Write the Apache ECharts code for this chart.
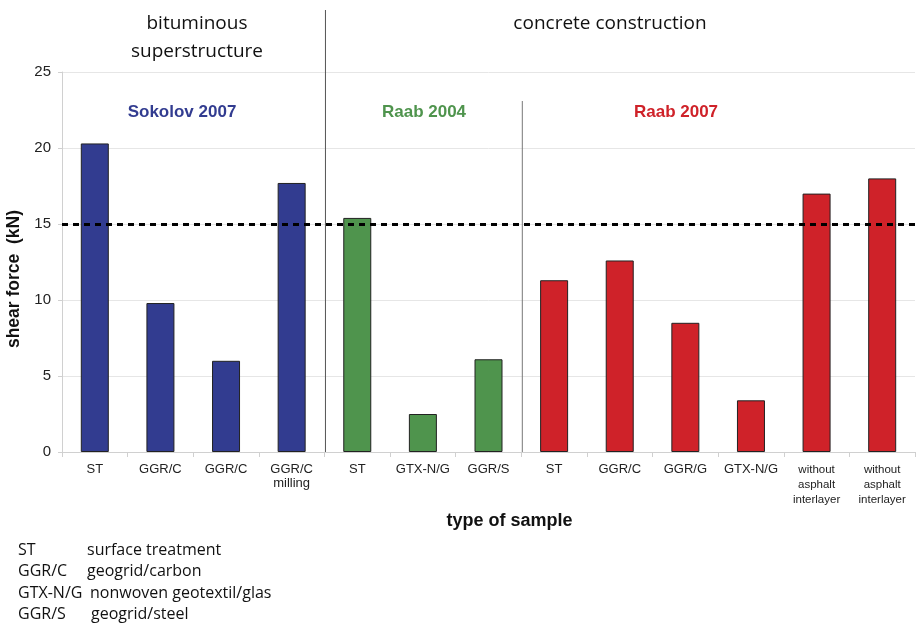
<!DOCTYPE html>
<html>
<head>
<meta charset="utf-8">
<script src="https://cdn.jsdelivr.net/npm/echarts@6/dist/echarts.min.js"></script>
<style>
  html, body { margin: 0; padding: 0; background: #fff; }
  #chart { width: 917px; height: 626px; }
</style>
</head>
<body>
<div id="chart"></div>
<script>
// categories (type of sample)
var categories = ['ST', 'GGR/C', 'GGR/C', 'GGR/C\nmilling', 'ST', 'GTX-N/G', 'GGR/S',
  'ST', 'GGR/C', 'GGR/G', 'GTX-N/G', 'without\nasphalt\ninterlayer', 'without\nasphalt\ninterlayer'];
// shear force in kN
var shearForce = [20.3, 9.8, 6.0, 17.7, 15.4, 2.5, 6.1, 11.3, 12.6, 8.5, 3.4, 17.0, 18.0];
// which study each bar belongs to
var study = [0, 0, 0, 0, 1, 1, 1, 2, 2, 2, 2, 2, 2];
var studyNames = ['Sokolov 2007', 'Raab 2004', 'Raab 2007'];
var studyColors = ['#323c90', '#4f944d', '#cf2229'];
var yTicks = [0, 5, 10, 15, 20, 25];
var limitValue = 15;
var legendAbbr = ['ST', 'GGR/C', 'GTX-N/G', 'GGR/S'];
var legendText = ['surface treatment', 'geogrid/carbon', 'nonwoven geotextil/glas', 'geogrid/steel'];

var chart = echarts.init(document.getElementById('chart'));

var barData = shearForce.map(function (v, i) {
  return { value: v, itemStyle: { color: studyColors[study[i]] } };
});

chart.setOption({
  animation: false,
  grid: { left: 62, right: 2, top: 72, bottom: 174, containLabel: false, outerBoundsMode: 'none' },
  xAxis: {
    type: 'category',
    data: categories,
    axisLine: { lineStyle: { color: '#d0d0d0' } },
    axisTick: { show: true, length: 5, lineStyle: { color: '#d0d0d0' } },
    axisLabel: {
      color: '#222', fontFamily: 'Liberation Sans', margin: 10,
      interval: 0, lineHeight: 14,
      formatter: function (v) { return v.indexOf('without') === 0 ? '{s|' + v.split('\n').join('}\n{s|') + '}' : v; },
      fontSize: 13,
      rich: { s: { fontSize: 11.5, lineHeight: 15, fontFamily: 'Liberation Sans', color: '#222' } }
    },
    name: 'type of sample',
    nameLocation: 'middle',
    nameGap: 60,
    nameTextStyle: { fontFamily: 'Liberation Sans', fontWeight: 'bold', fontSize: 18, color: '#111', padding: [0, 0, 0, 42] }
  },
  yAxis: {
    type: 'value',
    min: yTicks[0],
    max: yTicks[yTicks.length - 1],
    interval: 5,
    axisLine: { show: true, lineStyle: { color: '#d0d0d0' } },
    axisTick: { show: true, length: 4, inside: false, lineStyle: { color: '#d0d0d0' } },
    axisLabel: { color: '#222', fontFamily: 'Liberation Sans', fontSize: 15, margin: 11 },
    splitLine: { lineStyle: { color: '#e6e6e6' } },
    name: 'shear force  (kN)',
    nameLocation: 'middle',
    nameGap: 28,
    nameTextStyle: { fontFamily: 'Liberation Sans', fontWeight: 'bold', fontSize: 17.5, color: '#111', padding: [0, 34, 0, 0] }
  },
  series: [{
    type: 'bar',
    data: barData,
    barWidth: 28,
    itemStyle: { borderColor: '#222', borderWidth: 1 },
    markLine: {
      symbol: 'none',
      silent: true,
      label: { show: false },
      lineStyle: { color: '#000', type: [6, 5], width: 3 },
      data: [{ yAxis: limitValue }]
    }
  }]
});

// separator lines between groups, placed at the category boundaries
function boundaryX(idx) {
  var a = chart.convertToPixel({ xAxisIndex: 0 }, idx - 1);
  var b = chart.convertToPixel({ xAxisIndex: 0 }, idx);
  return (a + b) / 2;
}
var yBottom = chart.convertToPixel({ yAxisIndex: 0 }, 0);
var x1 = boundaryX(4) + 1, x2 = boundaryX(7) + 1;
var studyY = 112;

var graphics = [
  { type: 'line', shape: { x1: x1, y1: 10, x2: x1, y2: yBottom }, style: { stroke: '#555', lineWidth: 1 } },
  { type: 'line', shape: { x1: x2, y1: 101, x2: x2, y2: yBottom }, style: { stroke: '#777', lineWidth: 1 } },
  { type: 'text', x: 197, y: 10, style: { text: 'bituminous\nsuperstructure', font: '19px "Open Sans"', fill: '#111', align: 'center', verticalAlign: 'top', lineHeight: 28 } },
  { type: 'text', x: 610, y: 10, style: { text: 'concrete construction', font: '19px "Open Sans"', fill: '#111', align: 'center', verticalAlign: 'top', lineHeight: 28 } },
  { type: 'text', x: 182, y: studyY, style: { text: studyNames[0], font: 'bold 17px "Liberation Sans"', fill: studyColors[0], align: 'center', verticalAlign: 'middle' } },
  { type: 'text', x: 424, y: studyY, style: { text: studyNames[1], font: 'bold 17px "Liberation Sans"', fill: studyColors[1], align: 'center', verticalAlign: 'middle' } },
  { type: 'text', x: 676, y: studyY, style: { text: studyNames[2], font: 'bold 17px "Liberation Sans"', fill: studyColors[2], align: 'center', verticalAlign: 'middle' } }
];
var descX = [87, 87, 90, 91];
legendAbbr.forEach(function (a, i) {
  var y = 550.5 + i * 21.4;
  graphics.push({ type: 'text', x: 18, y: y, style: { text: a, font: '16px "Open Sans"', fill: '#111', verticalAlign: 'middle' } });
  graphics.push({ type: 'text', x: descX[i], y: y, style: { text: legendText[i], font: '16px "Open Sans"', fill: '#111', verticalAlign: 'middle' } });
});
chart.setOption({ graphic: graphics });
</script>
</body>
</html>
